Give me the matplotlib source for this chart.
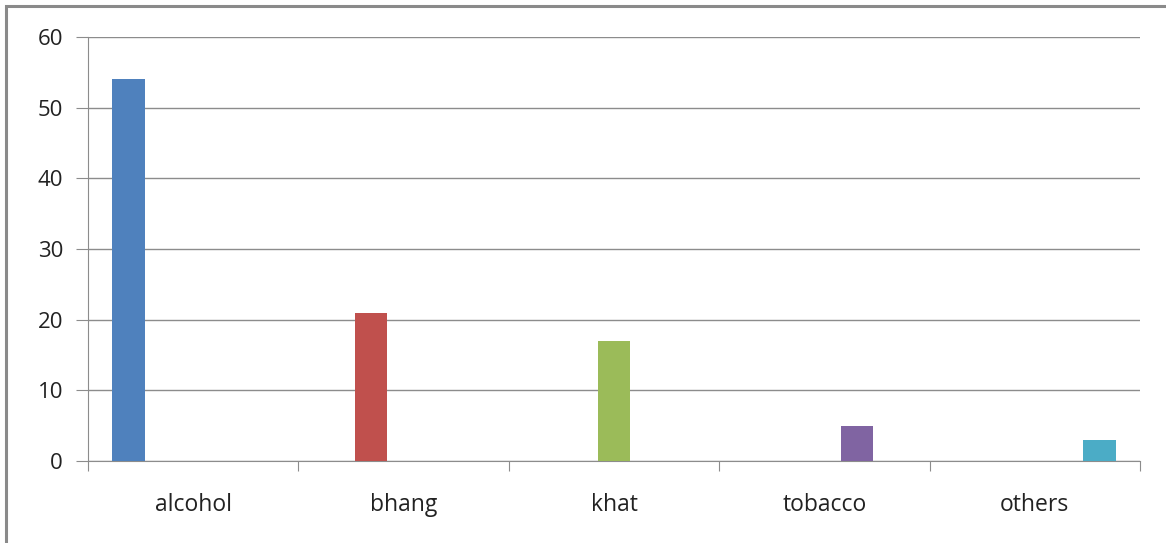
import numpy as np
import matplotlib.pyplot as plt
from matplotlib.patches import Rectangle

categories = ["alcohol", "bhang", "khat", "tobacco", "others"]
values = [54, 21, 17, 5, 3]
colors = ["#4f81bd", "#c0504d", "#9bbb59", "#8064a2", "#4bacc6"]
yticks = [0, 10, 20, 30, 40, 50, 60]

plt.rcParams['font.family'] = ['Open Sans', 'DejaVu Sans']

fig = plt.figure(figsize=(11.66, 5.43), dpi=100)
ax = fig.add_axes([88/1166, 82/543, (1140-88)/1166, (461-37)/543])

# each category is its own series in the original (Excel clustered bars)
nSer = len(categories)
w = 1.0 / (nSer + 1.5)
x = np.arange(len(categories))
for i in range(nSer):
    serVals = [values[i] if j == i else 0 for j in range(len(categories))]
    ax.bar(x + (i - (nSer-1)/2.0) * w, serVals, width=w, color=colors[i], zorder=3)

ax.set_xlim(-0.5, len(categories) - 0.5)
ax.set_ylim(0, 60)
ax.set_yticks(yticks)
ax.yaxis.grid(True, color='#8c8c8c', linewidth=1.0, zorder=0)

ax.set_xticks(np.arange(-0.5, len(categories), 1.0))
ax.set_xticklabels([])
ax.set_xticks(x, minor=True)
ax.set_xticklabels(categories, minor=True)
ax.tick_params(axis='x', which='major', direction='out', length=7, color='#8c8c8c')
ax.tick_params(axis='x', which='minor', length=0, pad=23, labelsize=16.5, labelcolor='#222222')
ax.tick_params(axis='y', direction='out', length=9, color='#8c8c8c', labelsize=16,
               labelcolor='#222222', pad=9)

for s in ['top', 'right']:
    ax.spines[s].set_visible(False)
for s in ['left', 'bottom']:
    ax.spines[s].set_color('#8c8c8c')

# outer chart frame
fig.patches.append(Rectangle((6/1166, -0.05), 1.2, (543-6)/543 + 0.05,
                             transform=fig.transFigure, fill=False,
                             edgecolor='#8a8a8a', linewidth=2.2))

fig.savefig("out.png", dpi=100)
